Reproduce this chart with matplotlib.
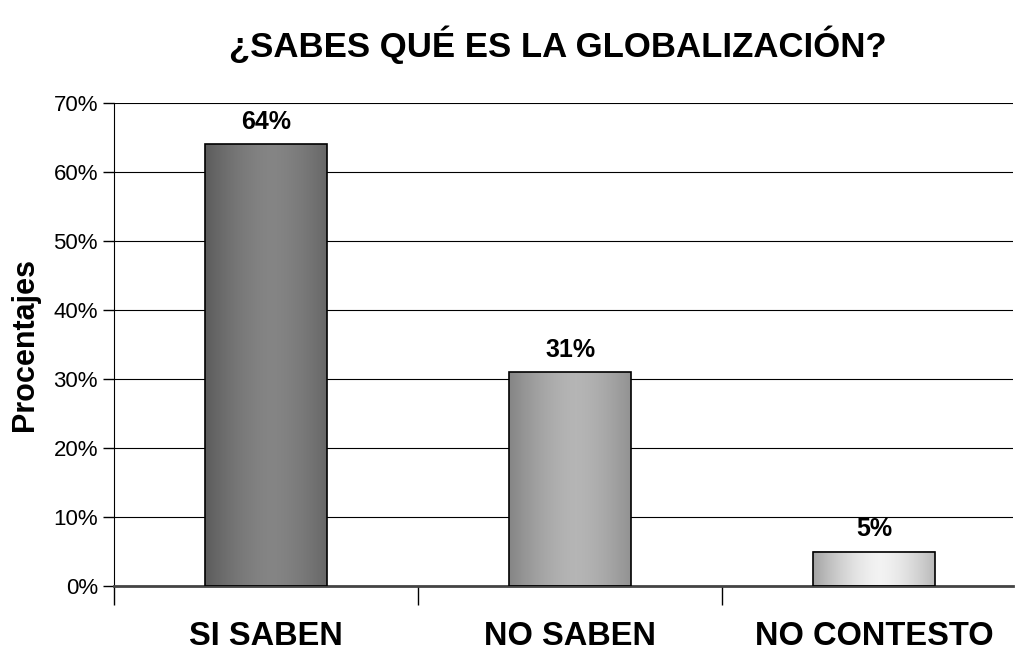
import numpy as np
import matplotlib.pyplot as plt
from matplotlib.ticker import FuncFormatter

plt.rcParams['font.family'] = ['Liberation Sans', 'DejaVu Sans']

categories = ["SI SABEN", "NO SABEN", "NO CONTESTO"]
values = [64, 31, 5]
labels = ["64%", "31%", "5%"]
# (edge gray, center gray) for the cylinder-like gradient of each bar
shades = [(0.36, 0.52), (0.52, 0.71), (0.64, 0.95)]

fig = plt.figure(figsize=(10.18, 6.53), dpi=100)
ax = fig.add_axes([0.112, 0.1026, 0.8831, 0.7397])

x = np.arange(len(categories))
width = 0.4
bars = ax.bar(x, values, width=width, facecolor='none', edgecolor='black', linewidth=1.2, zorder=3)

t = np.linspace(0, 1, 256)
for b, (lo, hi) in zip(bars, shades):
    prof = lo + (hi - lo) * np.clip(1 - np.abs((t - 0.55) / 0.55) ** 1.6, 0, 1)
    img = np.dstack([prof, prof, prof]).repeat(2, axis=0)
    x0, y0 = b.get_x(), b.get_y()
    ax.imshow(img, extent=[x0, x0 + b.get_width(), y0, y0 + b.get_height()],
              aspect='auto', zorder=2, interpolation='bilinear')

for xi, v, lab in zip(x, values, labels):
    ax.text(xi, v + 1.5, lab, ha='center', va='bottom', fontsize=18, fontweight='bold')

ax.set_xlim(-0.5, 2.457)
ax.set_ylim(0, 70)
ax.set_yticks(np.arange(0, 71, 10))
ax.yaxis.set_major_formatter(FuncFormatter(lambda v, p: "%d%%" % v))
ax.tick_params(axis='y', labelsize=16, length=8, width=1, direction='out')
ax.grid(axis='y', color='black', linewidth=0.8, zorder=0)
ax.set_axisbelow(True)

ax.set_xticks([-0.5, 0.5, 1.5])
ax.set_xticklabels([])
ax.tick_params(axis='x', length=14, width=1, direction='out')
for xi, c in zip(x, categories):
    ax.text(xi, -0.072, c, transform=ax.get_xaxis_transform(), ha='center', va='top',
            fontsize=23.5, fontweight='bold')

for s in ['top', 'right']:
    ax.spines[s].set_visible(False)
ax.spines['bottom'].set_color('#444444')
ax.spines['bottom'].set_linewidth(2)

ax.set_ylabel("Procentajes", fontsize=22, fontweight='bold', labelpad=10)
fig.text(0.548, 0.931, "¿SABES QUÉ ES LA GLOBALIZACIÓN?", ha='center', va='center',
         fontsize=25, fontweight='bold')

fig.savefig("out.png", dpi=100)
